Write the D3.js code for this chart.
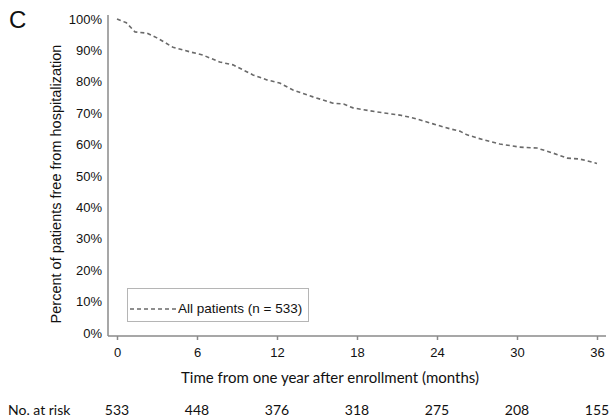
<!DOCTYPE html>
<html><head><meta charset="utf-8">
<script src="https://cdn.jsdelivr.net/npm/d3@7/dist/d3.min.js"></script>
<style>body{margin:0;background:#fff}svg{display:block}</style>
</head><body>
<script>
const months = [0, 0.7, 1.35, 2.25, 3.0, 4.2, 5.5, 6.45, 7.7, 8.7, 10.2, 11.25, 12.2, 13.2, 14.7, 16.2, 17.0, 17.7, 19.5, 21.2, 22.2, 23.7, 25.0, 25.7, 26.25, 27.5, 28.7, 30.2, 31.5, 32.7, 33.75, 34.7, 36.0];
const survival = [100, 98.8, 95.9, 95.5, 94, 91, 89.5, 88.5, 86.3, 85.4, 82.2, 80.6, 79.6, 77.4, 75.2, 73.2, 72.9, 71.7, 70.4, 69.4, 68.5, 66.6, 65, 64.3, 63.1, 61.5, 60.2, 59.2, 58.9, 57.3, 55.7, 55.4, 54.0];
const xTicks = [0, 6, 12, 18, 24, 30, 36];
const yTicks = [0, 10, 20, 30, 40, 50, 60, 70, 80, 90, 100];
const atRisk = [533, 448, 376, 318, 275, 208, 155];
const panelLabel = "C";
const yTitle = "Percent of patients free from hospitalization";
const xTitle = "Time from one year after enrollment (months)";
const legendLabel = "All patients (n = 533)";
const riskLabel = "No. at risk";

const W = 610, H = 420;
const svg = d3.select("body").append("svg").attr("width", W).attr("height", H);

const x = d3.scaleLinear().domain([0, 36]).range([117, 597]);
const y = d3.scaleLinear().domain([0, 100]).range([333, 19]);
const axisColor = "#8a8a8a";
const arial = "Arial, 'Liberation Sans', sans-serif";
const humanist = "Lato, 'Open Sans', sans-serif";
const ink = "#111";

// panel label
svg.append("text").attr("x", 9).attr("y", 28).attr("font-family", arial)
  .attr("font-size", 24).attr("fill", ink).text(panelLabel);

// y axis
svg.append("line").attr("x1", 108).attr("x2", 108).attr("y1", 15).attr("y2", 336)
  .attr("stroke", axisColor).attr("stroke-width", 1.5);
const yAxis = d3.axisLeft(y).tickValues(yTicks).tickFormat(d => d + "%").tickSize(0).tickPadding(0);
const yg = svg.append("g").attr("transform", "translate(102,0)").call(yAxis);
yg.select(".domain").remove();
yg.selectAll("text").attr("font-family", arial).attr("font-size", 13).attr("fill", ink);

// x axis
svg.append("line").attr("x1", 108).attr("x2", 606).attr("y1", 336).attr("y2", 336)
  .attr("stroke", axisColor).attr("stroke-width", 1.5);
const xAxis = d3.axisBottom(x).tickValues(xTicks).tickSize(4).tickPadding(8);
const xg = svg.append("g").attr("transform", "translate(0,336)").call(xAxis);
xg.select(".domain").remove();
xg.selectAll("line").attr("stroke", axisColor).attr("stroke-width", 1.5);
xg.selectAll("text").attr("font-family", arial).attr("font-size", 13).attr("fill", ink);

// titles
svg.append("text").attr("transform", "translate(61,184) rotate(-90)").attr("text-anchor", "middle")
  .attr("font-family", arial).attr("font-size", 14.5).attr("fill", ink).text(yTitle);
svg.append("text").attr("x", 330).attr("y", 383).attr("text-anchor", "middle")
  .attr("font-family", humanist).attr("font-size", 15).attr("fill", ink).text(xTitle);

// curve
const line = d3.line().x((d, i) => x(months[i])).y(d => y(d));
svg.append("path").datum(survival).attr("d", line).attr("fill", "none")
  .attr("stroke", "#6a6a6a").attr("stroke-width", 1.6).attr("stroke-dasharray", "4,3");

// legend
svg.append("rect").attr("x", 127.5).attr("y", 288.5).attr("width", 181).attr("height", 33)
  .attr("fill", "#fff").attr("stroke", "#b5b5b5").attr("stroke-width", 1);
svg.append("line").attr("x1", 130).attr("x2", 176).attr("y1", 309).attr("y2", 309)
  .attr("stroke", "#6a6a6a").attr("stroke-width", 1.6).attr("stroke-dasharray", "4,3");
svg.append("text").attr("x", 178).attr("y", 313).attr("font-family", arial).attr("font-size", 13.5)
  .attr("fill", ink).text(legendLabel);

// number at risk
svg.append("text").attr("x", 8).attr("y", 415).attr("font-family", humanist).attr("font-size", 14)
  .attr("fill", ink).text(riskLabel);
svg.selectAll(".risk").data(atRisk).enter().append("text").attr("class", "risk")
  .attr("x", (d, i) => x(xTicks[i])).attr("y", 415).attr("text-anchor", "middle")
  .attr("font-family", humanist).attr("font-size", 14).attr("fill", ink).text(d => d);
</script>
</body></html>
